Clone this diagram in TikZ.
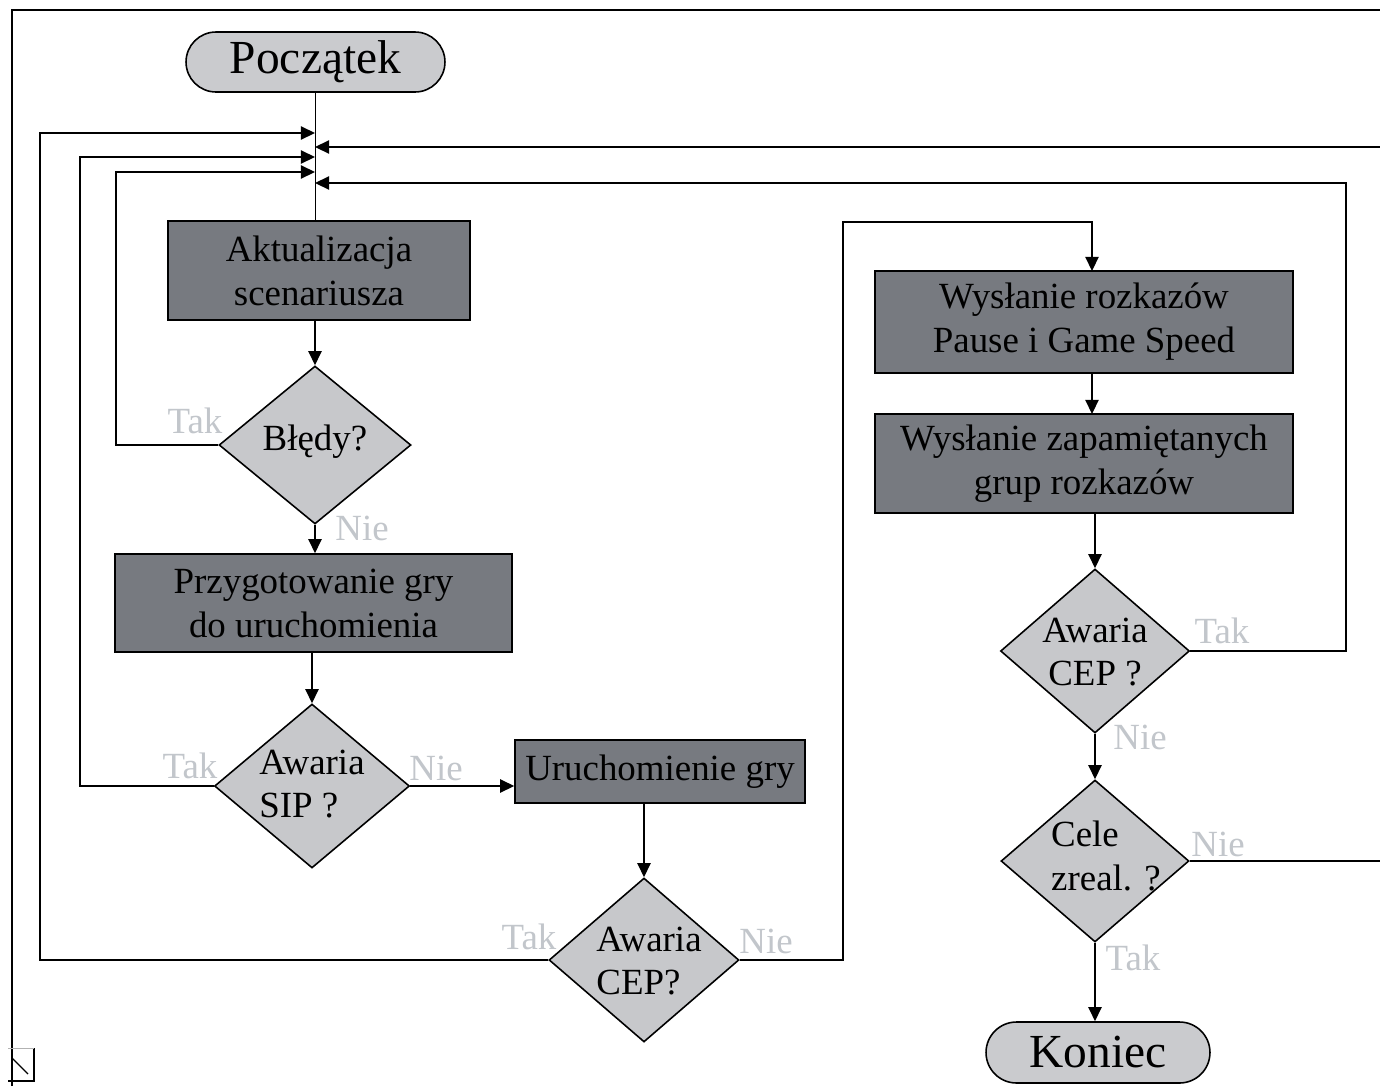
\documentclass[tikz,border=0pt]{standalone}
\usepackage{fontspec}
\setmainfont{Liberation Serif}
\usetikzlibrary{shapes.geometric,shapes.misc,arrows.meta}
\definecolor{boxgray}{HTML}{777A80}
\definecolor{decgray}{HTML}{C7C8CB}
\definecolor{termgray}{HTML}{CACBCE}
\definecolor{labgray}{HTML}{C2C6CB}
\tikzset{
  x=0.02cm, y=-0.02cm,
  line/.style={line width=0.9pt, black},
  arr/.style={line, -{Triangle[length=8pt,width=7.5pt]}},
  procbox/.style={draw=black, line width=0.9pt, fill=boxgray, inner sep=0pt,
    align=center, font=\fontsize{21}{25}\selectfont},
  term/.style={draw=black, line width=0.9pt, fill=termgray, rounded rectangle,
    inner sep=0pt, font=\fontsize{27}{32}\selectfont},
  dec/.style={draw=black, line width=0.9pt, fill=decgray, diamond, inner sep=0pt},
  dectext/.style={inner sep=0pt, font=\fontsize{21}{25}\selectfont},
  answer/.style={inner sep=0pt, text=labgray, font=\fontsize{21}{25}\selectfont},
}
\begin{document}
\begin{tikzpicture}
\useasboundingbox (0,0) rectangle (1380,1086);
\clip (0,0) rectangle (1380,1086);

% window frame
\draw[line width=1.2pt] (12,1086) -- (12,10) -- (1385,10);
% resize grip
\draw[line width=0.9pt] (8,1081) -- (34,1081) -- (34,1048);
\draw[line width=0.5pt, gray!60] (8,1048) -- (34,1048);
\draw[line width=0.7pt] (12,1058) -- (28,1074);

% terminals
\node[term, minimum width=5.18cm, minimum height=1.2cm] (start) at (315.5,62) {Początek};
\node[term, minimum width=4.48cm, minimum height=1.22cm] (stop) at (1098,1052.5) {Koniec};

% process boxes
\node[procbox, minimum width=6.04cm, minimum height=1.98cm] (akt) at (319,270.5)
  {Aktualizacja\\scenariusza};
\node[procbox, minimum width=7.94cm, minimum height=1.96cm] (przyg) at (313.5,603)
  {Przygotowanie gry\\do uruchomienia};
\node[procbox, minimum width=5.8cm, minimum height=1.26cm] (uruch) at (660,771.5)
  {Uruchomienie gry};
\node[procbox, minimum width=8.36cm, minimum height=2.04cm] (wys1) at (1084,322)
  {Wysłanie rozkazów\\Pause i Game Speed};
\node[procbox, minimum width=8.36cm, minimum height=1.98cm] (wys2) at (1084,463.5)
  {Wysłanie zapamiętanych\\grup rozkazów};

% decisions
\node[dec, minimum width=3.84cm, minimum height=3.16cm] (bledy) at (315,445) {};
\node[dectext] at (315,442) {Błędy?};
\node[dec, minimum width=3.9cm, minimum height=3.28cm] (sip) at (312,786) {};
\node[dectext, align=left] at (312,784) {Awaria\\SIP ?};
\node[dec, minimum width=3.8cm, minimum height=3.28cm] (cep1) at (644,960) {};
\node[dectext, align=left] at (649,961) {Awaria\\CEP?};
\node[dec, minimum width=3.78cm, minimum height=3.28cm] (cep2) at (1095,651) {};
\node[dectext, align=center] at (1095,652) {Awaria\\CEP ?};
\node[dec, minimum width=3.76cm, minimum height=3.24cm] (cele) at (1095,861) {};
\node[dectext, align=left] at (1106,856) {Cele\\zreal. ?};

% merge points on the main line
\coordinate (j1) at (315,133);
\coordinate (j2) at (315,147);
\coordinate (j3) at (315,157);
\coordinate (j4) at (315,172);
\coordinate (j5) at (315,183);

% main flow
\draw[line] (start.south) -- (start.south |- akt.north);
\draw[arr] (bledy.north |- akt.south) -- (bledy.north);
\draw[arr] (bledy.south) -- (bledy.south |- przyg.north);
\draw[arr] (sip.north |- przyg.south) -- (sip.north);
\draw[arr] (sip.east) -- (sip.east -| uruch.west);
\draw[arr] (cep1.north |- uruch.south) -- (cep1.north);
\draw[arr] (cep1.east) -- (843,960) -- (843,222) -- (1092,222) -- (1092,271);
\draw[arr] (1092,373) -- (1092,414);
\draw[arr] (cep2.north |- wys2.south) -- (cep2.north);
\draw[arr] (cep2.south) -- (cele.north);
\draw[arr] (cele.south) -- (cele.south |- stop.north);

% return loops
\draw[arr] (bledy.west) -- (116,445) -- (116,172) -- (j4);
\draw[arr] (sip.west) -- (80,786) -- (80,157) -- (j3);
\draw[arr] (cep1.west) -- (40,960) -- (40,133) -- (j1);
\draw[arr] (cep2.east) -- (1346,651) -- (1346,183) -- (j5);
\draw[arr] (cele.east) -- (1395,861) -- (1395,147) -- (j2);

% answers
\node[answer] at (195,421) {Tak};
\node[answer] at (362,528) {Nie};
\node[answer] at (190,766) {Tak};
\node[answer] at (436,768) {Nie};
\node[answer] at (529,937) {Tak};
\node[answer] at (766,941) {Nie};
\node[answer] at (1222,631) {Tak};
\node[answer] at (1140,737) {Nie};
\node[answer] at (1218,844) {Nie};
\node[answer] at (1133,958) {Tak};
\end{tikzpicture}
\end{document}
